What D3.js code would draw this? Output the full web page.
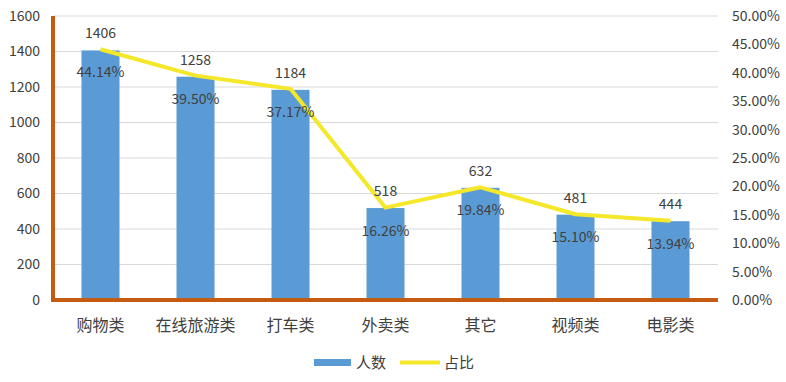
<!DOCTYPE html>
<html><head><meta charset="utf-8">
<script src="https://cdn.jsdelivr.net/npm/d3@7"></script>
<style>body{margin:0;background:#fff}</style>
</head><body><svg id="c" width="786" height="382"></svg>
<script>
const categories = ["购物类","在线旅游类","打车类","外卖类","其它","视频类","电影类"];
const counts = [1406,1258,1184,518,632,481,444];
const shares = [44.14,39.50,37.17,16.26,19.84,15.10,13.94];
const leftTicks = [0,200,400,600,800,1000,1200,1400,1600];
const rightTicks = [0,5,10,15,20,25,30,35,40,45,50];

const svg = d3.select("#c");
const L = 53, R = 718, T = 16, B = 300;
const font = "'Noto Sans CJK SC', 'Open Sans', sans-serif";
const tc = "#404040";
const x = d3.scaleBand().domain(categories).range([L, R]).paddingInner(0.6).paddingOuter(0.3);
const y = d3.scaleLinear().domain([0,1600]).range([B, T]);
const y2 = d3.scaleLinear().domain([0,50]).range([B, T]);

// gridlines
svg.append("g").selectAll("line").data(leftTicks.slice(1)).join("line")
  .attr("x1", L).attr("x2", R).attr("y1", d=>y(d)).attr("y2", d=>y(d))
  .attr("stroke", "#d9d9d9").attr("stroke-width", 1);

// bars
svg.append("g").selectAll("rect").data(categories).join("rect")
  .attr("x", d=>x(d)).attr("width", x.bandwidth())
  .attr("y", (d,i)=>y(counts[i])).attr("height", (d,i)=>B - y(counts[i]))
  .attr("fill", "#5b9bd5");

// axes lines (orange)
svg.append("line").attr("x1", L).attr("x2", L).attr("y1", T).attr("y2", B+2)
  .attr("stroke", "#c55a11").attr("stroke-width", 4);
svg.append("line").attr("x1", L-2).attr("x2", R).attr("y1", B).attr("y2", B)
  .attr("stroke", "#c55a11").attr("stroke-width", 4);

// left axis labels
const gl = svg.append("g").attr("transform", `translate(${L-13},0)`)
  .call(d3.axisLeft(y).tickValues(leftTicks).tickSize(0).tickPadding(0).tickFormat(d3.format("d")));
gl.select(".domain").remove();
gl.selectAll("text").attr("font-family", font).attr("font-size", 14).attr("fill", tc);

// right axis labels
const gr = svg.append("g").attr("transform", `translate(${R+14},0)`)
  .call(d3.axisRight(y2).tickValues(rightTicks).tickSize(0).tickPadding(0).tickFormat(d=>d.toFixed(2)+"%"));
gr.select(".domain").remove();
gr.selectAll("text").attr("font-family", font).attr("font-size", 14).attr("fill", tc);

// x labels
svg.append("g").selectAll("text").data(categories).join("text")
  .attr("x", d=>x(d)+x.bandwidth()/2).attr("y", 331).attr("text-anchor","middle")
  .attr("font-family", font).attr("font-size", 16).attr("fill", tc).text(d=>d);

// line
const cx = d=>x(d)+x.bandwidth()/2;
svg.append("path").datum(categories)
  .attr("d", d3.line().x(d=>cx(d)).y((d,i)=>y2(shares[i])))
  .attr("fill","none").attr("stroke","#f5e72a").attr("stroke-width",4).attr("stroke-linejoin","round");

// bar value labels
svg.append("g").selectAll("text").data(categories).join("text")
  .attr("x", d=>cx(d)).attr("y", (d,i)=>y(counts[i]) - 12).attr("text-anchor","middle")
  .attr("font-family", font).attr("font-size", 14).attr("fill", tc).text((d,i)=>counts[i]);

// share labels
svg.append("g").selectAll("text").data(categories).join("text")
  .attr("x", d=>cx(d)).attr("y", (d,i)=>y2(shares[i]) + 28).attr("text-anchor","middle")
  .attr("font-family", font).attr("font-size", 14).attr("fill", tc).text((d,i)=>shares[i].toFixed(2)+"%");

// legend
const lg = svg.append("g").attr("font-family", font).attr("font-size", 15).attr("fill", tc);
lg.append("rect").attr("x", 314).attr("y", 359).attr("width", 37).attr("height", 7).attr("fill", "#5b9bd5");
lg.append("text").attr("x", 356).attr("y", 368).text("人数");
lg.append("line").attr("x1", 400).attr("x2", 440).attr("y1", 362.5).attr("y2", 362.5).attr("stroke", "#f5e72a").attr("stroke-width", 4);
lg.append("text").attr("x", 444).attr("y", 368).text("占比");
</script></body></html>
